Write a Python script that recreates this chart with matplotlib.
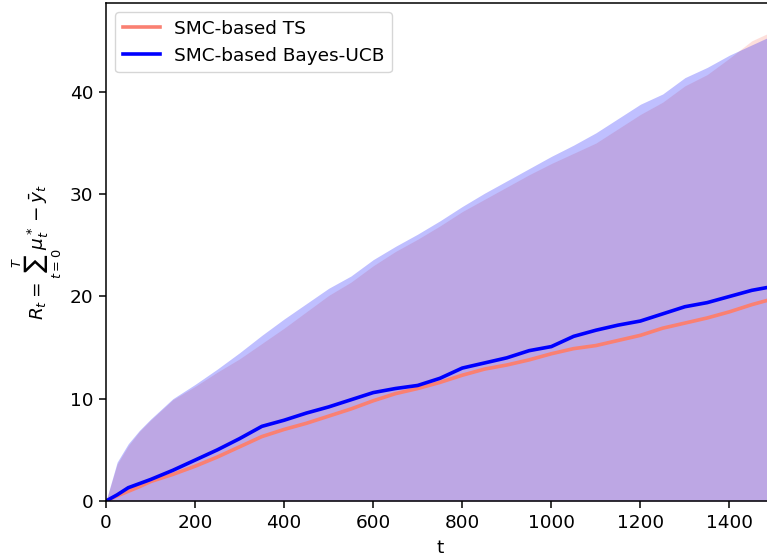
import matplotlib
matplotlib.use("Agg")
import matplotlib.pyplot as plt
import numpy as np

t = [0, 25, 50, 75, 100, 150, 200, 250, 300, 350, 400, 450, 500, 550, 600, 650,
     700, 750, 800, 850, 900, 950, 1000, 1050, 1100, 1150, 1200, 1250, 1300,
     1350, 1400, 1450, 1500]

ts_mean = [0, 0.5, 0.95, 1.4, 1.9, 2.6, 3.4, 4.3, 5.3, 6.3, 7.0, 7.6, 8.3, 9.0,
           9.8, 10.5, 11.0, 11.6, 12.3, 12.9, 13.3, 13.8, 14.4, 14.9, 15.2,
           15.7, 16.2, 16.9, 17.4, 17.9, 18.5, 19.2, 19.8]
ucb_mean = [0, 0.6, 1.3, 1.7, 2.1, 3.0, 4.0, 5.0, 6.1, 7.3, 7.9, 8.6, 9.2, 9.9,
            10.6, 11.0, 11.3, 12.0, 13.0, 13.5, 14.0, 14.7, 15.1, 16.1, 16.7,
            17.2, 17.6, 18.3, 19.0, 19.4, 20.0, 20.6, 21.0]

ts_upper = [0, 3.6, 5.4, 6.8, 7.9, 9.9, 11.2, 12.6, 13.9, 15.4, 16.9, 18.5,
            20.1, 21.4, 23.0, 24.4, 25.6, 26.9, 28.3, 29.5, 30.7, 31.9, 33.0,
            34.0, 35.0, 36.4, 37.8, 39.0, 40.6, 41.7, 43.3, 45.0, 46.0]
ucb_upper = [0, 3.8, 5.6, 6.9, 8.0, 10.0, 11.4, 12.9, 14.5, 16.2, 17.8, 19.3,
             20.8, 22.0, 23.6, 24.9, 26.1, 27.4, 28.8, 30.1, 31.3, 32.5, 33.7,
             34.8, 36.0, 37.4, 38.8, 39.8, 41.4, 42.4, 43.6, 44.6, 45.6]
lower = [0] * len(t)

labels = ["SMC-based TS", "SMC-based Bayes-UCB"]
colors = ["salmon", "blue"]

FS = 13.3
LW = 2.6

fig = plt.figure(figsize=(7.67, 5.6), dpi=100)
ax = fig.add_axes([106 / 767, 59 / 560, 668 / 767, 498 / 560])

ax.fill_between(t, lower, ts_upper, color=colors[0], alpha=0.25, linewidth=0)
ax.plot(t, ts_mean, color=colors[0], linewidth=LW, label=labels[0])
ax.fill_between(t, lower, ucb_upper, color=colors[1], alpha=0.25, linewidth=0)
ax.plot(t, ucb_mean, color=colors[1], linewidth=LW, label=labels[1])

ax.set_xlim(0, 1500)
ax.set_ylim(0, 48.7)
ax.set_xticks([0, 200, 400, 600, 800, 1000, 1200, 1400])
ax.set_yticks([0, 10, 20, 30, 40])
ax.tick_params(labelsize=FS, length=4.7, width=1.1, pad=4.5)
for s in ax.spines.values():
    s.set_linewidth(1.1)
ax.set_xlabel("t", fontsize=FS, labelpad=5)
ax.set_ylabel(r"$R_t=\sum_{t=0}^{T}\mu_t^*-\bar{y}_t$", fontsize=FS, labelpad=4)
ax.legend(loc="upper left", fontsize=FS, handlelength=2.0, borderaxespad=0.5)

fig.savefig("out.png", dpi=100)
